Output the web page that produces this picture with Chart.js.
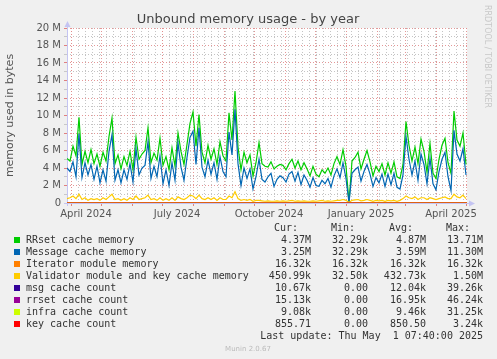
<!DOCTYPE html>
<html>
<head>
<meta charset="utf-8">
<script src="https://cdn.jsdelivr.net/npm/chart.js@4.4.1/dist/chart.umd.min.js"></script>
<style>
  html, body { margin: 0; padding: 0; background: #f0f0f0; }
  canvas { display: block; }
</style>
</head>
<body>
<canvas id="myChart" width="497" height="359"></canvas>
<script>
// x = days since 28 Mar 2024, memory series sampled every 3 days (in M)
const STEP = 3;
const COUNT_STEP = 20;

const rrsetMem = [
  5.1, 4.8, 6.5, 5.4, 9.8, 4.4, 5.9, 4.6, 6.1, 4.5, 5.6, 4.2, 5.8, 4.8, 7.6, 9.7, 4.5, 5.5, 3.9, 5.3, 4.3, 5.9, 3.8,
  7.5, 5.0, 5.6, 6.0, 8.6, 4.6, 5.7, 4.9, 7.4, 4.3, 5.3, 3.8, 6.3, 4.2, 8.0, 5.9, 4.4, 6.7, 9.1, 10.4, 6.5, 10.1,
  5.8, 4.6, 6.6, 5.0, 6.2, 4.4, 7.0, 5.4, 4.8, 10.3, 7.2, 12.8, 6.4, 3.8, 5.8, 4.6, 5.5, 3.1, 4.6, 6.9, 4.5, 4.2,
  4.1, 4.7, 3.9, 4.2, 4.4, 4.3, 3.8, 4.5, 5.0, 4.0, 4.8, 3.8, 4.6, 3.9, 3.1, 4.2, 3.3, 3.0, 3.8, 3.4, 4.0, 3.2,
  4.5, 5.3, 4.4, 6.1, 4.2, 0.05, 4.8, 5.2, 5.8, 3.9, 5.0, 6.0, 4.7, 3.1, 4.2, 3.6, 4.5, 3.2, 4.6, 3.4, 4.7, 3.0,
  2.8, 4.4, 9.3, 6.6, 4.8, 6.4, 4.5, 7.3, 5.9, 3.5, 6.8, 3.4, 2.8, 5.0, 6.6, 7.4, 4.6, 3.4, 10.5, 7.2, 6.5, 8.0, 4.4
];
const messageMem = [
  4.0, 3.6, 4.7, 3.0, 7.9, 2.9, 4.6, 3.2, 4.4, 2.7, 4.2, 2.3, 3.8, 2.5, 5.9, 7.8, 2.6, 3.8, 2.3, 3.8, 2.7, 4.5, 2.4,
  6.2, 3.2, 4.0, 4.3, 7.0, 2.8, 4.2, 3.0, 5.4, 2.2, 3.8, 2.0, 4.6, 2.6, 6.9, 4.1, 2.6, 5.2, 7.5, 8.2, 4.4, 8.6,
  4.1, 3.0, 4.9, 3.3, 4.6, 2.7, 5.3, 3.6, 3.0, 8.1, 5.5, 10.7, 4.5, 2.0, 4.0, 2.8, 3.9, 1.6, 3.0, 5.0, 2.7, 2.4,
  3.0, 3.4, 1.9, 2.7, 3.1, 2.9, 2.4, 3.3, 3.6, 2.5, 3.5, 2.1, 3.2, 2.6, 1.8, 2.9, 2.0, 1.9, 2.6, 2.2, 2.8, 1.8,
  3.1, 3.9, 2.9, 4.6, 2.8, 0.05, 3.4, 3.8, 4.1, 2.5, 3.6, 4.4, 3.3, 1.9, 2.9, 2.3, 3.3, 1.9, 3.3, 2.1, 3.4, 1.8,
  1.6, 3.2, 7.6, 5.0, 3.2, 4.8, 2.6, 5.6, 4.4, 2.2, 5.1, 2.2, 1.5, 3.6, 5.0, 5.8, 3.0, 1.4, 8.3, 5.6, 4.8, 6.2, 3.2
];
const validatorMem = [
  0.5, 0.6, 0.8, 0.5, 1.0, 0.4, 0.6, 0.3, 0.5, 0.4, 0.5, 0.3, 0.6, 0.4, 0.7, 1.0, 0.4, 0.5, 0.3, 0.5, 0.3, 0.6, 0.4,
  0.8, 0.4, 0.5, 0.6, 0.9, 0.4, 0.5, 0.3, 0.6, 0.3, 0.5, 0.3, 0.6, 0.3, 0.7, 0.5, 0.4, 0.6, 0.9, 0.8, 0.5, 0.9,
  0.5, 0.4, 0.6, 0.4, 0.6, 0.3, 0.6, 0.4, 0.4, 0.8, 0.6, 1.3, 0.5, 0.3, 0.4, 0.3, 0.4, 0.2, 0.3, 0.3, 0.25, 0.2,
  0.25, 0.2, 0.2, 0.25, 0.2, 0.25, 0.2, 0.25, 0.3, 0.2, 0.25, 0.2, 0.25, 0.2, 0.2, 0.25, 0.2, 0.25, 0.3, 0.2, 0.25, 0.2,
  0.25, 0.3, 0.3, 0.4, 0.3, 0.05, 0.3, 0.35, 0.4, 0.25, 0.3, 0.4, 0.3, 0.2, 0.3, 0.25, 0.3, 0.2, 0.3, 0.25, 0.3, 0.2,
  0.3, 0.5, 0.8, 0.6, 0.5, 0.7, 0.4, 0.6, 0.6, 0.4, 0.6, 0.5, 0.4, 0.5, 0.6, 0.7, 0.5, 0.5, 1.0, 0.7, 0.6, 0.9, 0.5
];
// every 20 days
const iteratorMem = [0.01632, 0.01632, 0.01632, 0.01632, 0.01632, 0.01632, 0.01632, 0.01632, 0.01632, 0.01632, 0.01632,
  0.01632, 0.01632, 0.01632, 0.01632, 0.01632, 0.01632, 0.01632, 0.01632, 0.01632, 0.01632];
const msgCount = [12500, 14800, 11200, 13600, 12900, 15300, 16800, 11000, 10400, 9800, 10200, 9600, 9900, 10100, 0, 9700, 9400, 14200, 13100, 15600, 10670];
const rrsetCount = [17600, 21000, 16100, 19400, 18300, 21800, 24600, 15200, 14300, 13900, 14100, 13500, 13800, 14200, 0, 13600, 13300, 20100, 18700, 22300, 15130];
const infraCount = [9800, 11600, 8900, 10700, 10100, 12000, 13500, 8400, 7900, 7700, 7800, 7400, 7600, 7800, 0, 7500, 7300, 11100, 10300, 12300, 9080];
const keyCount = [880, 1040, 790, 950, 900, 1070, 1200, 750, 700, 680, 690, 660, 680, 700, 0, 670, 650, 990, 920, 1090, 855.71];

// x axis: month starts (major grid), first monday, tick labels
const monthStarts = [4, 34, 65, 95, 126, 157, 187, 218, 248, 279, 310, 338, 369, 399];
const firstMonday = 4;
const xLabels = ["April 2024", "July 2024", "October 2024", "January 2025", "April 2025"];
const xLabelDays = [19, 110, 202, 294, 384];

// legend
const legendNames = ["RRset cache memory", "Message cache memory", "Iterator module memory",
  "Validator module and key cache memory", "msg cache count", "rrset cache count", "infra cache count", "key cache count"];
const legendColors = ["#00cc00", "#0066b3", "#ff8000", "#ffcc00", "#330099", "#990099", "#ccff00", "#ff0000"];
const curVals = ["4.37M", "3.25M", "16.32k", "450.99k", "10.67k", "15.13k", "9.08k", "855.71"];
const minVals = ["32.29k", "32.29k", "16.32k", "32.50k", "0.00", "0.00", "0.00", "0.00"];
const avgVals = ["4.87M", "3.59M", "16.32k", "432.73k", "12.04k", "16.95k", "9.46k", "850.50"];
const maxVals = ["13.71M", "11.30M", "16.32k", "1.50M", "39.26k", "46.24k", "31.25k", "3.24k"];

const MAJOR = "rgba(225, 140, 140, 0.9)";
const MINOR = "rgba(190, 190, 190, 0.9)";
const AXIS = "#c4c4f2";

function toPoints(arr, step, scale) {
  return arr.map((v, i) => ({ x: i * step, y: v * scale }));
}

const seriesData = [
  toPoints(rrsetMem, STEP, 1),
  toPoints(messageMem, STEP, 1),
  toPoints(iteratorMem, COUNT_STEP, 1),
  toPoints(validatorMem, STEP, 1),
  toPoints(msgCount, COUNT_STEP, 1e-6),
  toPoints(rrsetCount, COUNT_STEP, 1e-6),
  toPoints(infraCount, COUNT_STEP, 1e-6),
  toPoints(keyCount, COUNT_STEP, 1e-6),
];

// background + plot area
const background = {
  id: "background",
  beforeDraw(chart) {
    const { ctx, chartArea: { left, top, width, height } } = chart;
    ctx.save();
    ctx.fillStyle = "#f0f0f0";
    ctx.fillRect(0, 0, chart.width, chart.height);
    ctx.fillStyle = "#ffffff";
    ctx.fillRect(left, top, width, height);
    ctx.restore();
  },
};

// axis lines with arrows
const axes = {
  id: "axes",
  beforeDatasetsDraw(chart) {
    const { ctx, chartArea: { left, right, top, bottom } } = chart;
    ctx.save();
    ctx.strokeStyle = AXIS;
    ctx.fillStyle = AXIS;
    ctx.lineWidth = 1;
    ctx.beginPath();
    ctx.moveTo(left + 0.5, bottom + 3);
    ctx.lineTo(left + 0.5, top - 4);
    ctx.moveTo(left - 3, bottom + 0.5);
    ctx.lineTo(right + 4, bottom + 0.5);
    ctx.stroke();
    ctx.beginPath();
    ctx.moveTo(left - 2.5, top - 1);
    ctx.lineTo(left + 3.5, top - 1);
    ctx.lineTo(left + 0.5, top - 7);
    ctx.closePath();
    ctx.fill();
    ctx.beginPath();
    ctx.moveTo(right + 2, bottom - 2.5);
    ctx.lineTo(right + 2, bottom + 3.5);
    ctx.lineTo(right + 8, bottom + 0.5);
    ctx.closePath();
    ctx.fill();
    ctx.restore();
  },
};

// title, side text and munin legend
const muninText = {
  id: "muninText",
  afterDraw(chart) {
    const ctx = chart.ctx;
    ctx.save();
    ctx.fillStyle = "#444";
    ctx.font = "13px 'DejaVu Sans'";
    ctx.textAlign = "center";
    ctx.textBaseline = "alphabetic";
    ctx.fillText("Unbound memory usage - by year", 248, 23);

    ctx.save();
    ctx.translate(485, 5);
    ctx.rotate(Math.PI / 2);
    ctx.fillStyle = "#c8c8c8";
    ctx.font = "8px 'DejaVu Sans'";
    ctx.textAlign = "left";
    ctx.fillText("RRDTOOL / TOBI OETIKER", 0, 0);
    ctx.restore();

    ctx.font = "10px 'DejaVu Sans Mono'";
    ctx.fillStyle = "#333";
    ctx.textBaseline = "middle";
    const cols = [311, 368, 426, 483];
    ctx.textAlign = "right";
    ["Cur:", "Min:", "Avg:", "Max:"].forEach((h, i) => ctx.fillText(h, cols[i] - 13, 228));
    legendNames.forEach((name, i) => {
      const y = 240 + i * 12;
      ctx.fillStyle = legendColors[i];
      ctx.fillRect(14, y - 3, 6, 6);
      ctx.fillStyle = "#333";
      ctx.textAlign = "left";
      ctx.fillText(name, 26, y);
      ctx.textAlign = "right";
      ctx.fillText(curVals[i], cols[0], y);
      ctx.fillText(minVals[i], cols[1], y);
      ctx.fillText(avgVals[i], cols[2], y);
      ctx.fillText(maxVals[i], cols[3], y);
    });
    ctx.fillText("Last update: Thu May  1 07:40:00 2025", cols[3], 336);
    ctx.font = "7px 'DejaVu Sans'";
    ctx.fillStyle = "#bbbbbb";
    ctx.textAlign = "center";
    ctx.fillText("Munin 2.0.67", 248, 349);
    ctx.restore();
  },
};

const config = {
  type: "line",
  data: {
    datasets: legendNames.map((name, i) => ({
      label: name,
      data: seriesData[i],
      borderColor: legendColors[i],
      backgroundColor: legendColors[i],
      borderWidth: 1.2,
      pointRadius: 0,
      tension: 0,
      fill: false,
      order: legendNames.length - i,
    })),
  },
  plugins: [background, axes, muninText],
  options: {
    responsive: false,
    animation: false,
    layout: { padding: { left: 0, right: 30, top: 28, bottom: 120 } },
    plugins: {
      legend: { display: false },
      tooltip: { enabled: false },
      title: { display: false },
    },
    scales: {
      x: {
        type: "linear",
        min: 0,
        max: 400,
        afterBuildTicks(scale) {
          const t = [];
          for (let d = firstMonday; d <= 400; d += 7) t.push({ value: d });
          monthStarts.forEach((d) => t.push({ value: d }));
          t.sort((a, b) => a.value - b.value);
          scale.ticks = t;
        },
        afterFit(scale) {
          scale.height = 4;
        },
        ticks: { display: false },
        grid: {
          color: (c) => (c.tick && monthStarts.includes(c.tick.value) ? MAJOR : MINOR),
          tickColor: (c) => (c.tick && monthStarts.includes(c.tick.value) ? "#e08080" : "rgba(0,0,0,0)"),
          tickLength: 3,
          lineWidth: 1,
        },
        border: { display: false, dash: [1, 2] },
      },
      x2: {
        type: "linear",
        position: "bottom",
        min: 0,
        max: 400,
        afterBuildTicks(scale) {
          scale.ticks = xLabelDays.map((d) => ({ value: d }));
        },
        afterFit(scale) {
          scale.height = 32;
        },
        ticks: {
          autoSkip: false,
          maxRotation: 0,
          padding: -7,
          color: "#555",
          font: { family: "DejaVu Sans", size: 10 },
          callback: (v, i) => xLabels[i],
        },
        grid: { display: false },
        border: { display: false },
      },
      y: {
        type: "linear",
        min: 0,
        max: 20,
        afterBuildTicks(scale) {
          const t = [];
          for (let v = 0; v <= 20; v++) t.push({ value: v });
          scale.ticks = t;
        },
        afterFit(scale) {
          scale.width = 67;
        },
        ticks: {
          autoSkip: false,
          padding: 3,
          color: "#555",
          font: { family: "DejaVu Sans", size: 10 },
          callback: (v) => (v % 2 === 0 ? (v === 0 ? "0" : v + " M") : ""),
        },
        grid: {
          color: (c) => (c.tick && c.tick.value % 2 === 0 ? MAJOR : MINOR),
          tickColor: (c) => (c.tick && c.tick.value % 2 === 0 ? "#e08080" : "#c8c8c8"),
          tickLength: 3,
          lineWidth: 1,
        },
        border: { display: false, dash: [1, 2] },
        title: {
          display: true,
          text: "memory used in bytes",
          color: "#555",
          font: { family: "DejaVu Sans", size: 11 },
          padding: { top: 4, bottom: 0 },
        },
      },
    },
  },
};

const myChart = new Chart(document.getElementById("myChart"), config);
</script>
</body>
</html>
